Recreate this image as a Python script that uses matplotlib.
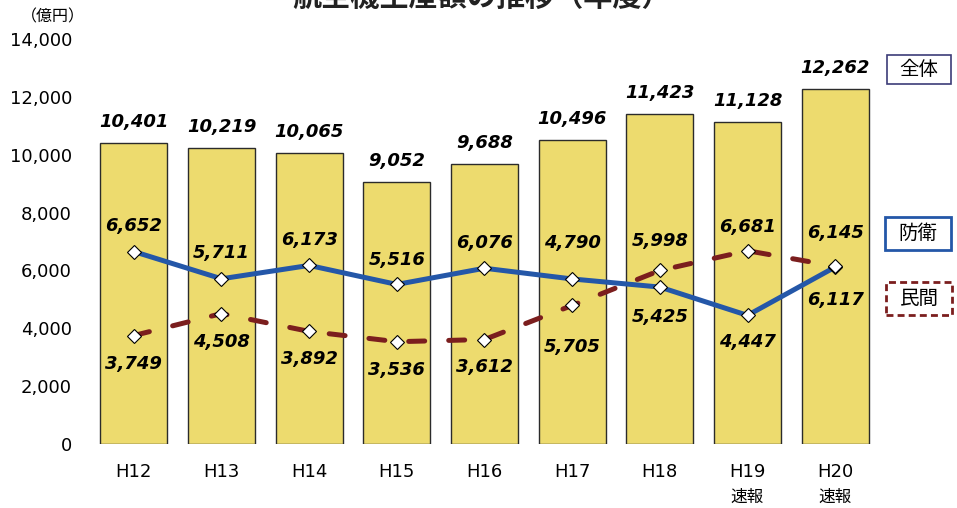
import matplotlib.pyplot as plt
from matplotlib.patches import Rectangle

# fiscal years and values (100 million yen)
years = ["H12", "H13", "H14", "H15", "H16", "H17", "H18", "H19", "H20"]
notes = ["", "", "", "", "", "", "", "速報", "速報"]
total = [10401, 10219, 10065, 9052, 9688, 10496, 11423, 11128, 12262]
defense = [6652, 5711, 6173, 5516, 6076, 5705, 5425, 4447, 6117]
civil = [3749, 4508, 3892, 3536, 3612, 4790, 5998, 6681, 6145]

# label offsets in pixels (positive = up)
off_total = [21] * 9
off_def = [26, 26, 25, 24, 25, -68, -30, -27, -33]
off_civ = [-28, -28, -28, -28, -27, 62, 29, 24, 33]

plt.rcParams['font.family'] = ['DejaVu Sans', 'Noto Sans CJK JP']
jp = ['Noto Sans CJK JP', 'DejaVu Sans']

W, H = 957, 508
fig = plt.figure(figsize=(W / 100, H / 100), dpi=100)
ax = fig.add_axes([90 / W, 64 / H, 789 / W, 405 / H])

x = list(range(len(years)))
ax.bar(x, total, width=0.765, color='#EDDB6E', edgecolor='#2b2b2b', linewidth=1.0, zorder=1)

ax.plot(x, defense, color='#2457A8', lw=3.6, marker='D', ms=7, mfc='white',
        mec='black', mew=0.8, zorder=3)
ax.plot(x, civil, color='#7B1E1E', lw=3.6, ls=(0, (3.2, 4.8)), dash_capstyle='round',
        marker='D', ms=7, mfc='white', mec='black', mew=0.8, zorder=3.1)

lbl = dict(textcoords='offset pixels', ha='center', va='center', fontsize=13,
           fontweight='bold', fontstyle='italic', zorder=5)
for i in x:
    ax.annotate(f"{total[i]:,}", (i, total[i]), xytext=(0, off_total[i]), **lbl)
    ax.annotate(f"{defense[i]:,}", (i, defense[i]), xytext=(0, off_def[i]), **lbl)
    ax.annotate(f"{civil[i]:,}", (i, civil[i]), xytext=(0, off_civ[i]), **lbl)
    if notes[i]:
        ax.annotate(notes[i], (i, 0), xytext=(0, -53), textcoords='offset pixels',
                    ha='center', va='center', fontsize=12, family=jp)

ax.set_xlim(-0.5, len(years) - 0.5)
ax.set_ylim(0, 14000)
ax.set_yticks(range(0, 14001, 2000))
ax.set_yticklabels([f"{v:,}" for v in range(0, 14001, 2000)], fontsize=13)
ax.set_xticks(x)
ax.set_xticklabels(years, fontsize=13)
ax.tick_params(axis='x', length=0, pad=14)
ax.tick_params(axis='y', length=0, pad=13)
for s in ax.spines.values():
    s.set_visible(False)

fig.text(53 / W, 1 - 17 / H, "（億円）", ha='center', va='center', fontsize=11.5, family=jp)
fig.text(482 / W, 1 + 3 / H, "航空機生産額の推移（年度）", ha='center', va='center',
         fontsize=21, fontweight='bold', family=jp, color='#222222')

# legend boxes
boxes = [("全体", 887, 55, 64, 29, '#3C3C78', 1.2, '-'),
         ("防衛", 885, 217, 66, 33, '#2457A8', 2.0, '-'),
         ("民間", 886, 282, 66, 33, '#7B1E1E', 2.0, (0, (2.5, 1.5)))]
for txt, bx, by, bw, bh, ec, lw, ls in boxes:
    fig.add_artist(Rectangle((bx / W, 1 - (by + bh) / H), bw / W, bh / H,
                             transform=fig.transFigure, fc='white', ec=ec, lw=lw, ls=ls))
    fig.text((bx + bw / 2) / W, 1 - (by + bh / 2) / H, txt, ha='center', va='center',
             fontsize=14, family=jp)

fig.savefig('out.png', dpi=100)
